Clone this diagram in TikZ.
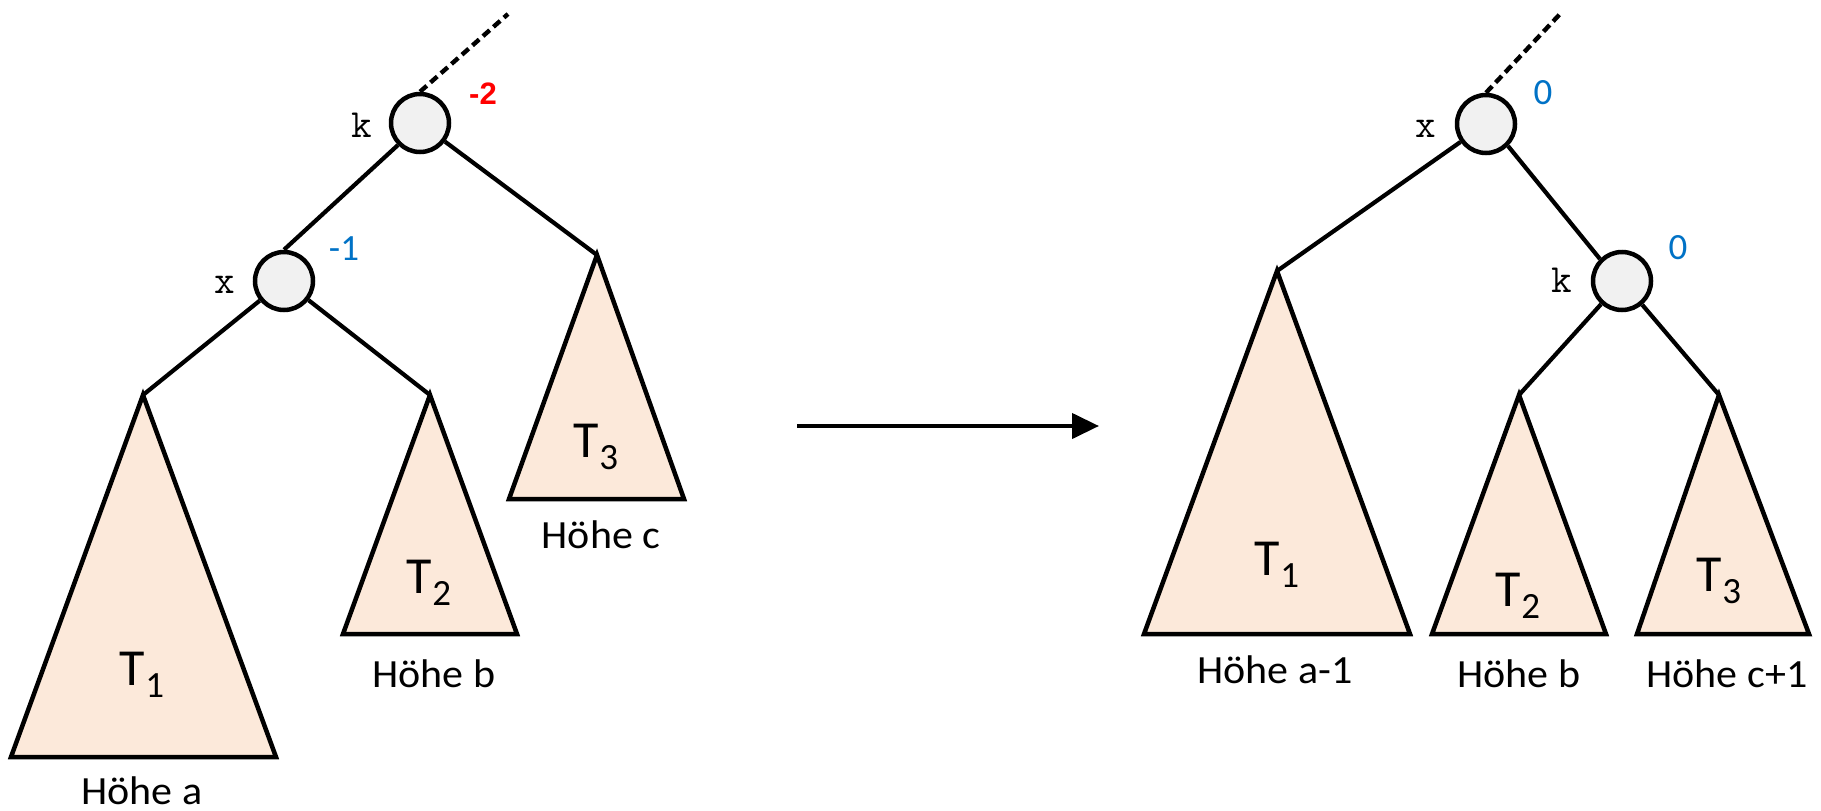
\documentclass[tikz,border=0pt]{standalone}
\usepackage{fontspec}
\setmainfont{Carlito}
\newfontfamily\widefam[FakeStretch=1.05]{Carlito}
\newfontfamily\boldarial{Liberation Sans}
\usetikzlibrary{arrows.meta}
\definecolor{treefill}{HTML}{FCE9DA}
\definecolor{nodefill}{HTML}{F1F1F1}
\definecolor{balblue}{HTML}{0072C6}
\definecolor{balred}{HTML}{FF0000}
\tikzset{
  knode/.style={circle,draw=black,fill=nodefill,line width=4.5pt,minimum size=58pt,inner sep=0pt},
  edge/.style={line width=4.2pt},
  dashedge/.style={line width=4.4pt,dash pattern=on 9pt off 5pt},
  tri/.style={draw=black,fill=treefill,line width=4.5pt,line join=miter},
  keylbl/.style={font=\ttfamily\fontsize{40}{40}\selectfont,anchor=base,inner sep=0pt},
  hlbl/.style={font=\widefam\fontsize{40}{40}\selectfont,anchor=base,inner sep=0pt},
  tlbl/.style={font=\fontsize{52}{52}\selectfont,anchor=base,inner sep=0pt},
  bblue/.style={font=\fontsize{37}{37}\selectfont,text=balblue,inner sep=0pt},
  bred/.style={font=\boldarial\bfseries\fontsize{31}{31}\selectfont,text=balred,inner sep=0pt},
  arr/.style={line width=4.2pt,-{Triangle[length=27pt,width=25pt]}}
}
\newcommand{\tsub}[1]{T\raisebox{-12pt}{\fontsize{37}{37}\selectfont #1}}
\begin{document}
\begin{tikzpicture}[x=1pt,y=-1pt]
\useasboundingbox[fill=white] (0,0) rectangle (1821,811);
% ---------- left tree ----------
\coordinate (L1a) at (143,395);
\coordinate (L2a) at (430,395);
\coordinate (L3a) at (597,255);
\coordinate (Ldash) at (508,14);
\draw[tri] (L1a) -- (276,757) -- (11,757) -- cycle;
\draw[tri] (L2a) -- (517,634) -- (343,634) -- cycle;
\draw[tri] (L3a) -- (684,499) -- (509,499) -- cycle;
\node[knode] (Lk) at (420,123) {};
\node[knode] (Lx) at (284,281) {};
\draw[dashedge] (Lk.north) -- (Ldash);
\draw[edge] (Lk.south west) -- (Lx.north);
\draw[edge] (Lk) -- (L3a);
\draw[edge] (Lx) -- (L1a);
\draw[edge] (Lx) -- (L2a);
\node[keylbl] (Lkl) at (362,137) {k};
\node[keylbl] (Lxl) at (225,293) {x};
\node[bred] (Lkb) at (483,94) {-2};
\node[bblue] (Lxb) at (344,249) {-1};
\node[tlbl] (LT1) at (142,685) {\tsub{1}};
\node[tlbl] (LT2) at (429,593) {\tsub{2}};
\node[tlbl] (LT3) at (596,457) {\tsub{3}};
\node[hlbl] (LH1) at (142,804) {Höhe a};
\node[hlbl] (LH2) at (434,687) {Höhe b};
\node[hlbl] (LH3) at (601,548) {Höhe c};
% ---------- arrow ----------
\coordinate (A1) at (797,426);
\coordinate (A2) at (1099,426);
\draw[arr] (A1) -- (A2);
% ---------- right tree ----------
\coordinate (R1a) at (1277,271);
\coordinate (R2a) at (1519,395);
\coordinate (R3a) at (1719,395);
\coordinate (Rdash) at (1560,14);
\draw[tri] (R1a) -- (1410,634) -- (1144,634) -- cycle;
\draw[tri] (R2a) -- (1606,634) -- (1432,634) -- cycle;
\draw[tri] (R3a) -- (1809,634) -- (1637,634) -- cycle;
\node[knode] (Rx) at (1486,124) {};
\node[knode] (Rk) at (1622,281) {};
\draw[dashedge] (Rx.north) -- (Rdash);
\draw[edge] (Rx) -- (R1a);
\draw[edge] (Rx.south east) -- (Rk.north west);
\draw[edge] (Rk) -- (R2a);
\draw[edge] (Rk) -- (R3a);
\node[keylbl] (Rxl) at (1426,137) {x};
\node[keylbl] (Rkl) at (1562,292) {k};
\node[bblue] (Rxb) at (1543,93) {0};
\node[bblue] (Rkb) at (1678,248) {0};
\node[tlbl] (RT1) at (1277,575) {\tsub{1}};
\node[tlbl] (RT2) at (1518,606) {\tsub{2}};
\node[tlbl] (RT3) at (1719,591) {\tsub{3}};
\node[hlbl] (RH1) at (1275,683) {Höhe a-1};
\node[hlbl] (RH2) at (1519,687) {Höhe b};
\node[hlbl] (RH3) at (1727,687) {Höhe c+1};
\end{tikzpicture}
\end{document}
